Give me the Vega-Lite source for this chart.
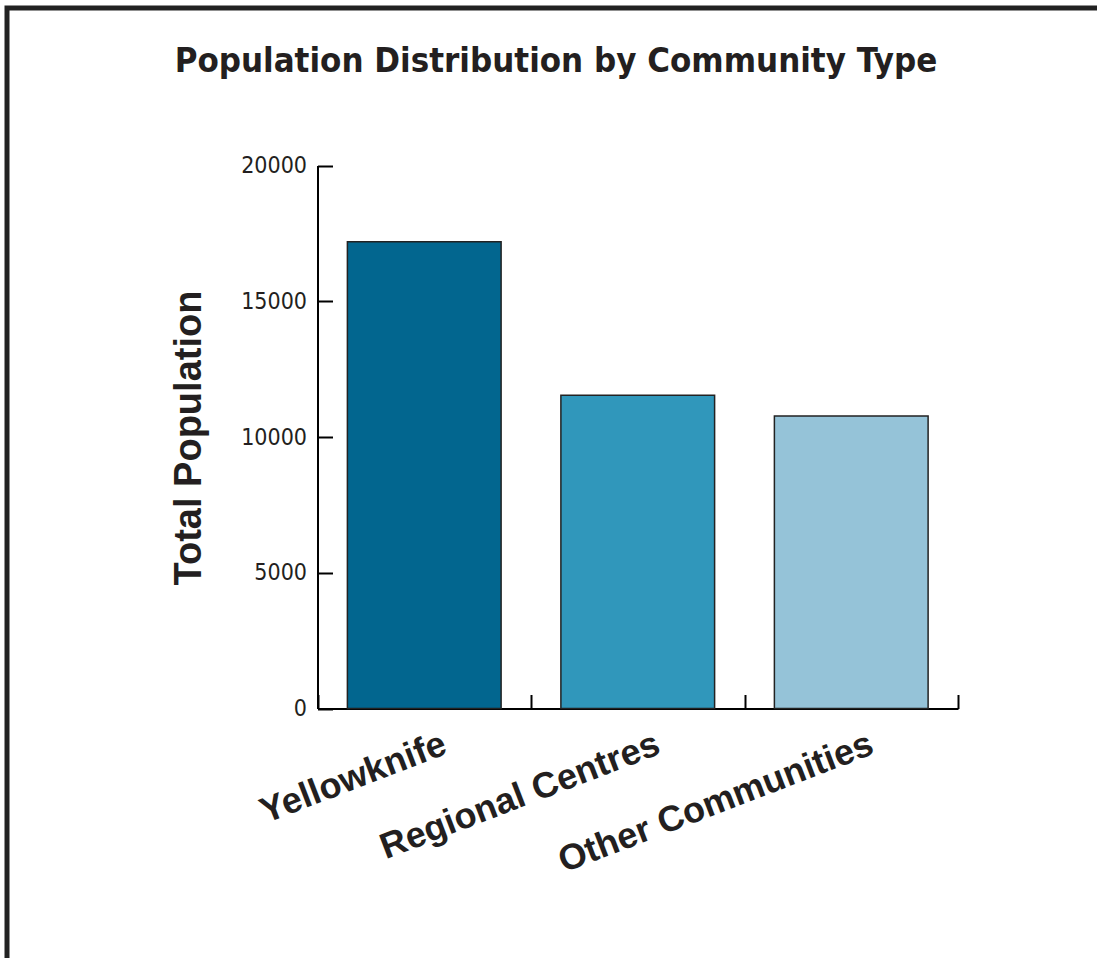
{
  "$schema": "https://vega.github.io/schema/vega-lite/v6.json",
  "autosize": {"type": "none"},
  "padding": {"left": 7, "top": 8, "right": -8, "bottom": -10},
  "width": 1098,
  "height": 960,
  "background": "white",
  "config": {"view": {"stroke": "#222222", "strokeWidth": 5, "fill": "white"}},
  "title": {
    "text": "Population Distribution by Community Type",
    "frame": "group",
    "anchor": "middle",
    "orient": "top",
    "offset": -63,
    "dy": 35,
    "baseline": "alphabetic",
    "font": "Liberation Sans Narrow, Arial Narrow, DejaVu Sans Condensed, Roboto",
    "fontWeight": "bold",
    "fontSize": 34.5,
    "color": "#231f20"
  },
  "data": {
    "values": [
      {"type": "Yellowknife", "population": 17190},
      {"type": "Regional Centres", "population": 11540},
      {"type": "Other Communities", "population": 10770}
    ]
  },
  "mark": {"type": "bar", "stroke": "#222222", "strokeWidth": 1.5, "width": {"band": 0.72}},
  "encoding": {
    "x": {
      "field": "type",
      "type": "nominal",
      "sort": null,
      "scale": {"range": [310.5, 951], "paddingInner": 0, "paddingOuter": 0},
      "axis": {
        "orient": "bottom",
        "offset": -259.5,
        "title": null,
        "tickBand": "extent",
        "tickSize": -14,
        "tickWidth": 2,
        "tickColor": "black",
        "domainColor": "black",
        "domainWidth": 2,
        "labelAngle": -21,
        "labelAlign": "right",
        "labelBaseline": "top",
        "labelPadding": 32,
        "labelOffset": 14,
        "labelLimit": 0,
        "labelFont": "Liberation Sans",
        "labelFontWeight": "bold",
        "labelFontSize": 36,
        "labelColor": "#231f20"
      }
    },
    "y": {
      "field": "population",
      "type": "quantitative",
      "scale": {"domain": [0, 20000], "range": [700.5, 157.5], "nice": false, "zero": true},
      "axis": {
        "orient": "left",
        "offset": -310.5,
        "values": [0, 5000, 10000, 15000, 20000],
        "format": "d",
        "grid": false,
        "domainColor": "black",
        "domainWidth": 2,
        "tickColor": "black",
        "tickWidth": 2,
        "tickSize": -15,
        "labelPadding": 26,
        "labelFont": "Liberation Sans Narrow, Arial Narrow, DejaVu Sans Condensed, Roboto",
        "labelFontSize": 23,
        "labelColor": "#231f20",
        "labelBaseline": "middle",
        "title": "Total Population",
        "titleFont": "Liberation Sans",
        "titleFontSize": 38,
        "titleFontWeight": "bold",
        "titleColor": "#231f20",
        "titleX": -117.5,
        "titleY": 429.5,
        "titleAngle": -90,
        "titleAlign": "center",
        "titleBaseline": "alphabetic"
      }
    },
    "color": {
      "field": "type",
      "type": "nominal",
      "sort": null,
      "scale": {"range": ["#02668f", "#3097bb", "#95c3d8"]},
      "legend": null
    }
  }
}
